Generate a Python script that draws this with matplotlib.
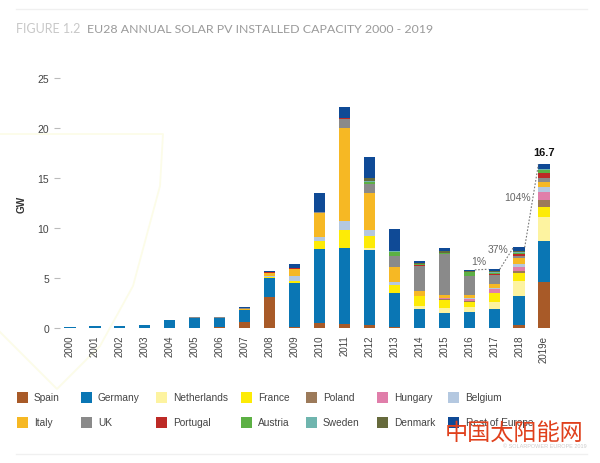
import numpy as np
import matplotlib
matplotlib.use('Agg')
import matplotlib.pyplot as plt
from matplotlib.patches import Rectangle

plt.rcParams['font.family'] = ['Liberation Sans', 'Noto Sans CJK SC', 'DejaVu Sans']

years = ['2000', '2001', '2002', '2003', '2004', '2005', '2006', '2007', '2008', '2009',
         '2010', '2011', '2012', '2013', '2014', '2015', '2016', '2017', '2018', '2019e']

#        2000 01   02   03   04   05   06   07    08    09    10   11    12   13   14   15    16    17    18    19e
spain = [0, 0, 0, 0, 0, 0, 0.1, 0.55, 3.05, 0.05, 0.5, 0.4, 0.3, 0.05, 0, 0, 0, 0, 0.23, 4.6]
germany = [0.05, 0.15, 0.15, 0.25, 0.75, 1.0, 0.9, 1.2, 1.95, 4.4, 7.4, 7.55, 7.5, 3.4, 1.87, 1.45, 1.55, 1.85, 2.93, 4.07]
netherlands = [0, 0, 0, 0, 0, 0, 0, 0, 0, 0, 0.02, 0.05, 0.2, 0.03, 0.35, 0.5, 0.5, 0.75, 1.53, 2.43]
france = [0, 0, 0, 0, 0, 0, 0, 0.02, 0.1, 0.25, 0.8, 1.75, 1.15, 0.85, 0.95, 0.85, 0.55, 0.85, 0.83, 1.0]
poland = [0, 0, 0, 0, 0, 0, 0, 0, 0, 0, 0, 0, 0, 0, 0, 0.05, 0.05, 0.05, 0.2, 0.73]
hungary = [0, 0, 0, 0, 0, 0, 0, 0, 0, 0, 0, 0, 0, 0, 0, 0.1, 0.2, 0.35, 0.4, 0.77]
belgium = [0, 0, 0, 0, 0, 0, 0, 0.03, 0.05, 0.5, 0.4, 1.0, 0.65, 0.3, 0.05, 0.05, 0.1, 0.15, 0.3, 0.5]
italy = [0, 0, 0, 0, 0, 0, 0, 0.05, 0.35, 0.7, 2.4, 9.25, 3.75, 1.43, 0.5, 0.3, 0.35, 0.4, 0.53, 0.55]
uk = [0.05, 0.05, 0.05, 0.05, 0.05, 0.05, 0.05, 0.1, 0.02, 0.02, 0.05, 0.9, 0.85, 1.1, 2.5, 4.05, 1.9, 0.93, 0.23, 0.4]
portugal = [0, 0, 0, 0, 0, 0, 0, 0.01, 0.02, 0.02, 0.03, 0.1, 0.05, 0.02, 0.02, 0.05, 0.03, 0.03, 0.2, 0.43]
austria = [0, 0, 0, 0, 0, 0, 0, 0.05, 0.01, 0.02, 0.05, 0.05, 0.2, 0.45, 0.1, 0.1, 0.35, 0.15, 0.15, 0.3]
sweden = [0, 0, 0, 0, 0, 0, 0, 0, 0, 0, 0, 0, 0.02, 0.02, 0.03, 0.03, 0.05, 0.05, 0.05, 0.1]
denmark = [0, 0, 0, 0, 0, 0, 0, 0, 0, 0, 0, 0, 0.35, 0.05, 0.1, 0.15, 0.02, 0.1, 0.1, 0]
rest = [0, 0, 0, 0, 0, 0, 0, 0.1, 0.15, 0.45, 1.85, 1.1, 2.05, 2.23, 0.25, 0.3, 0.15, 0.2, 0.37, 0.5]

series = [('Spain', spain, '#a85a28'), ('Germany', germany, '#0a76b4'),
          ('Netherlands', netherlands, '#fdf3a0'), ('France', france, '#fdeb06'),
          ('Poland', poland, '#9c7a5a'), ('Hungary', hungary, '#e07eaa'),
          ('Belgium', belgium, '#b4c8e0'), ('Italy', italy, '#f6b824'),
          ('UK', uk, '#8a8a8a'), ('Portugal', portugal, '#bd2a26'),
          ('Austria', austria, '#5cb044'), ('Sweden', sweden, '#6fb5ae'),
          ('Denmark', denmark, '#666a3c'), ('Rest of Europe', rest, '#0f4a96')]

growth_labels = ['1%', '37%', '104%']
total_label = '16.7'

W, H = 600, 464
fig = plt.figure(figsize=(W / 100, H / 100), dpi=100)


def fx(px):
    return px / W


def fy(py):
    return 1 - py / H


# faint background shape
bg = fig.add_axes([0, 0, 1, 1], zorder=0)
bg.set_xlim(0, W)
bg.set_ylim(H, 0)
bg.axis('off')
bg.plot([0, 163, 160, 133, 100, 57, 0], [135, 135, 187, 287, 347, 390, 333], color='#fcfce8', lw=1.3)
bg.plot([16, 587], [10, 10], color='#f0f0f0', lw=1)
bg.plot([16, 587], [455, 455], color='#f0f0f0', lw=1)

ax = fig.add_axes([fx(60), fy(328.7), fx(495), fy(79.4) - fy(328.7)], zorder=1)
ax.patch.set_alpha(0)
x = np.arange(len(years))
bottom = np.zeros(len(years))
for name, vals, col in series:
    ax.bar(x, vals, width=0.45, bottom=bottom, color=col, linewidth=0)
    bottom += np.array(vals)

ax.set_xlim(-0.4, 19.44)
ax.set_ylim(0, 25)
ax.set_yticks([0, 5, 10, 15, 20, 25])
ax.set_xticks(x)
ax.set_xticklabels(years, rotation=90, fontsize=7, color='#444444')
ax.tick_params(axis='x', length=0, pad=5)
ax.tick_params(axis='y', length=4, width=0.8, color='#bbbbbb', labelsize=7.5, labelcolor='#444444', pad=4)
for s in ax.spines.values():
    s.set_visible(False)
fig.text(fx(21.7), fy(204), 'GW', fontsize=7.2, color='#333333', fontweight='bold', rotation=90,
         ha='center', va='center')

# growth connectors
half = 0.225
for i in [16, 17, 18]:
    ax.plot([i + half, i + 1 - half], [bottom[i], bottom[i + 1]], color='#777777', lw=0.8, ls=(0, (1.5, 1.5)))
ax.text(16.39, 6.65, growth_labels[0], fontsize=7.5, color='#666666', ha='center', va='center')
ax.text(17.15, 7.9, growth_labels[1], fontsize=7.5, color='#666666', ha='center', va='center')
ax.text(17.92, 13.1, growth_labels[2], fontsize=7.5, color='#666666', ha='center', va='center')
ax.text(19, 17.6, total_label, fontsize=8, color='#111111', fontweight='bold', ha='center', va='center')

# title
fig.text(fx(16.5), fy(33.3), 'FIGURE 1.2', fontsize=9, color='#c8c8c8', family='Lato', va='baseline')
fig.text(fx(87), fy(33.3), 'EU28 ANNUAL SOLAR PV INSTALLED CAPACITY 2000 - 2019', fontsize=8.9, color='#9a9a9a',
         family='Lato', va='baseline')

# legend by hand, columns are not even
legend_x = [16.7, 80.7, 155.7, 241, 305.7, 377, 448.3]
legend_y = [398.3, 423.3]
for k, (name, vals, col) in enumerate(series):
    lx = legend_x[k % 7]
    ly = legend_y[k // 7]
    fig.add_artist(Rectangle((fx(lx), fy(ly + 5.5)), fx(11), fy(ly - 5.5) - fy(ly + 5.5), color=col, lw=0,
                             transform=fig.transFigure))
    fig.text(fx(lx + 17.3), fy(ly), name, fontsize=7.3, color='#444444', va='center', zorder=3)

fig.text(fx(587), fy(447), '\u00a9 SOLARPOWER EUROPE 2019', fontsize=4, color='#cccccc', ha='right', va='center')
fig.text(fx(513.7), fy(433), '中国太阳能网', fontsize=16.7, color='#e0401c', ha='center', va='center',
         family=['Noto Sans CJK SC', 'DejaVu Sans'], zorder=5)

fig.savefig('out.png', dpi=100)
